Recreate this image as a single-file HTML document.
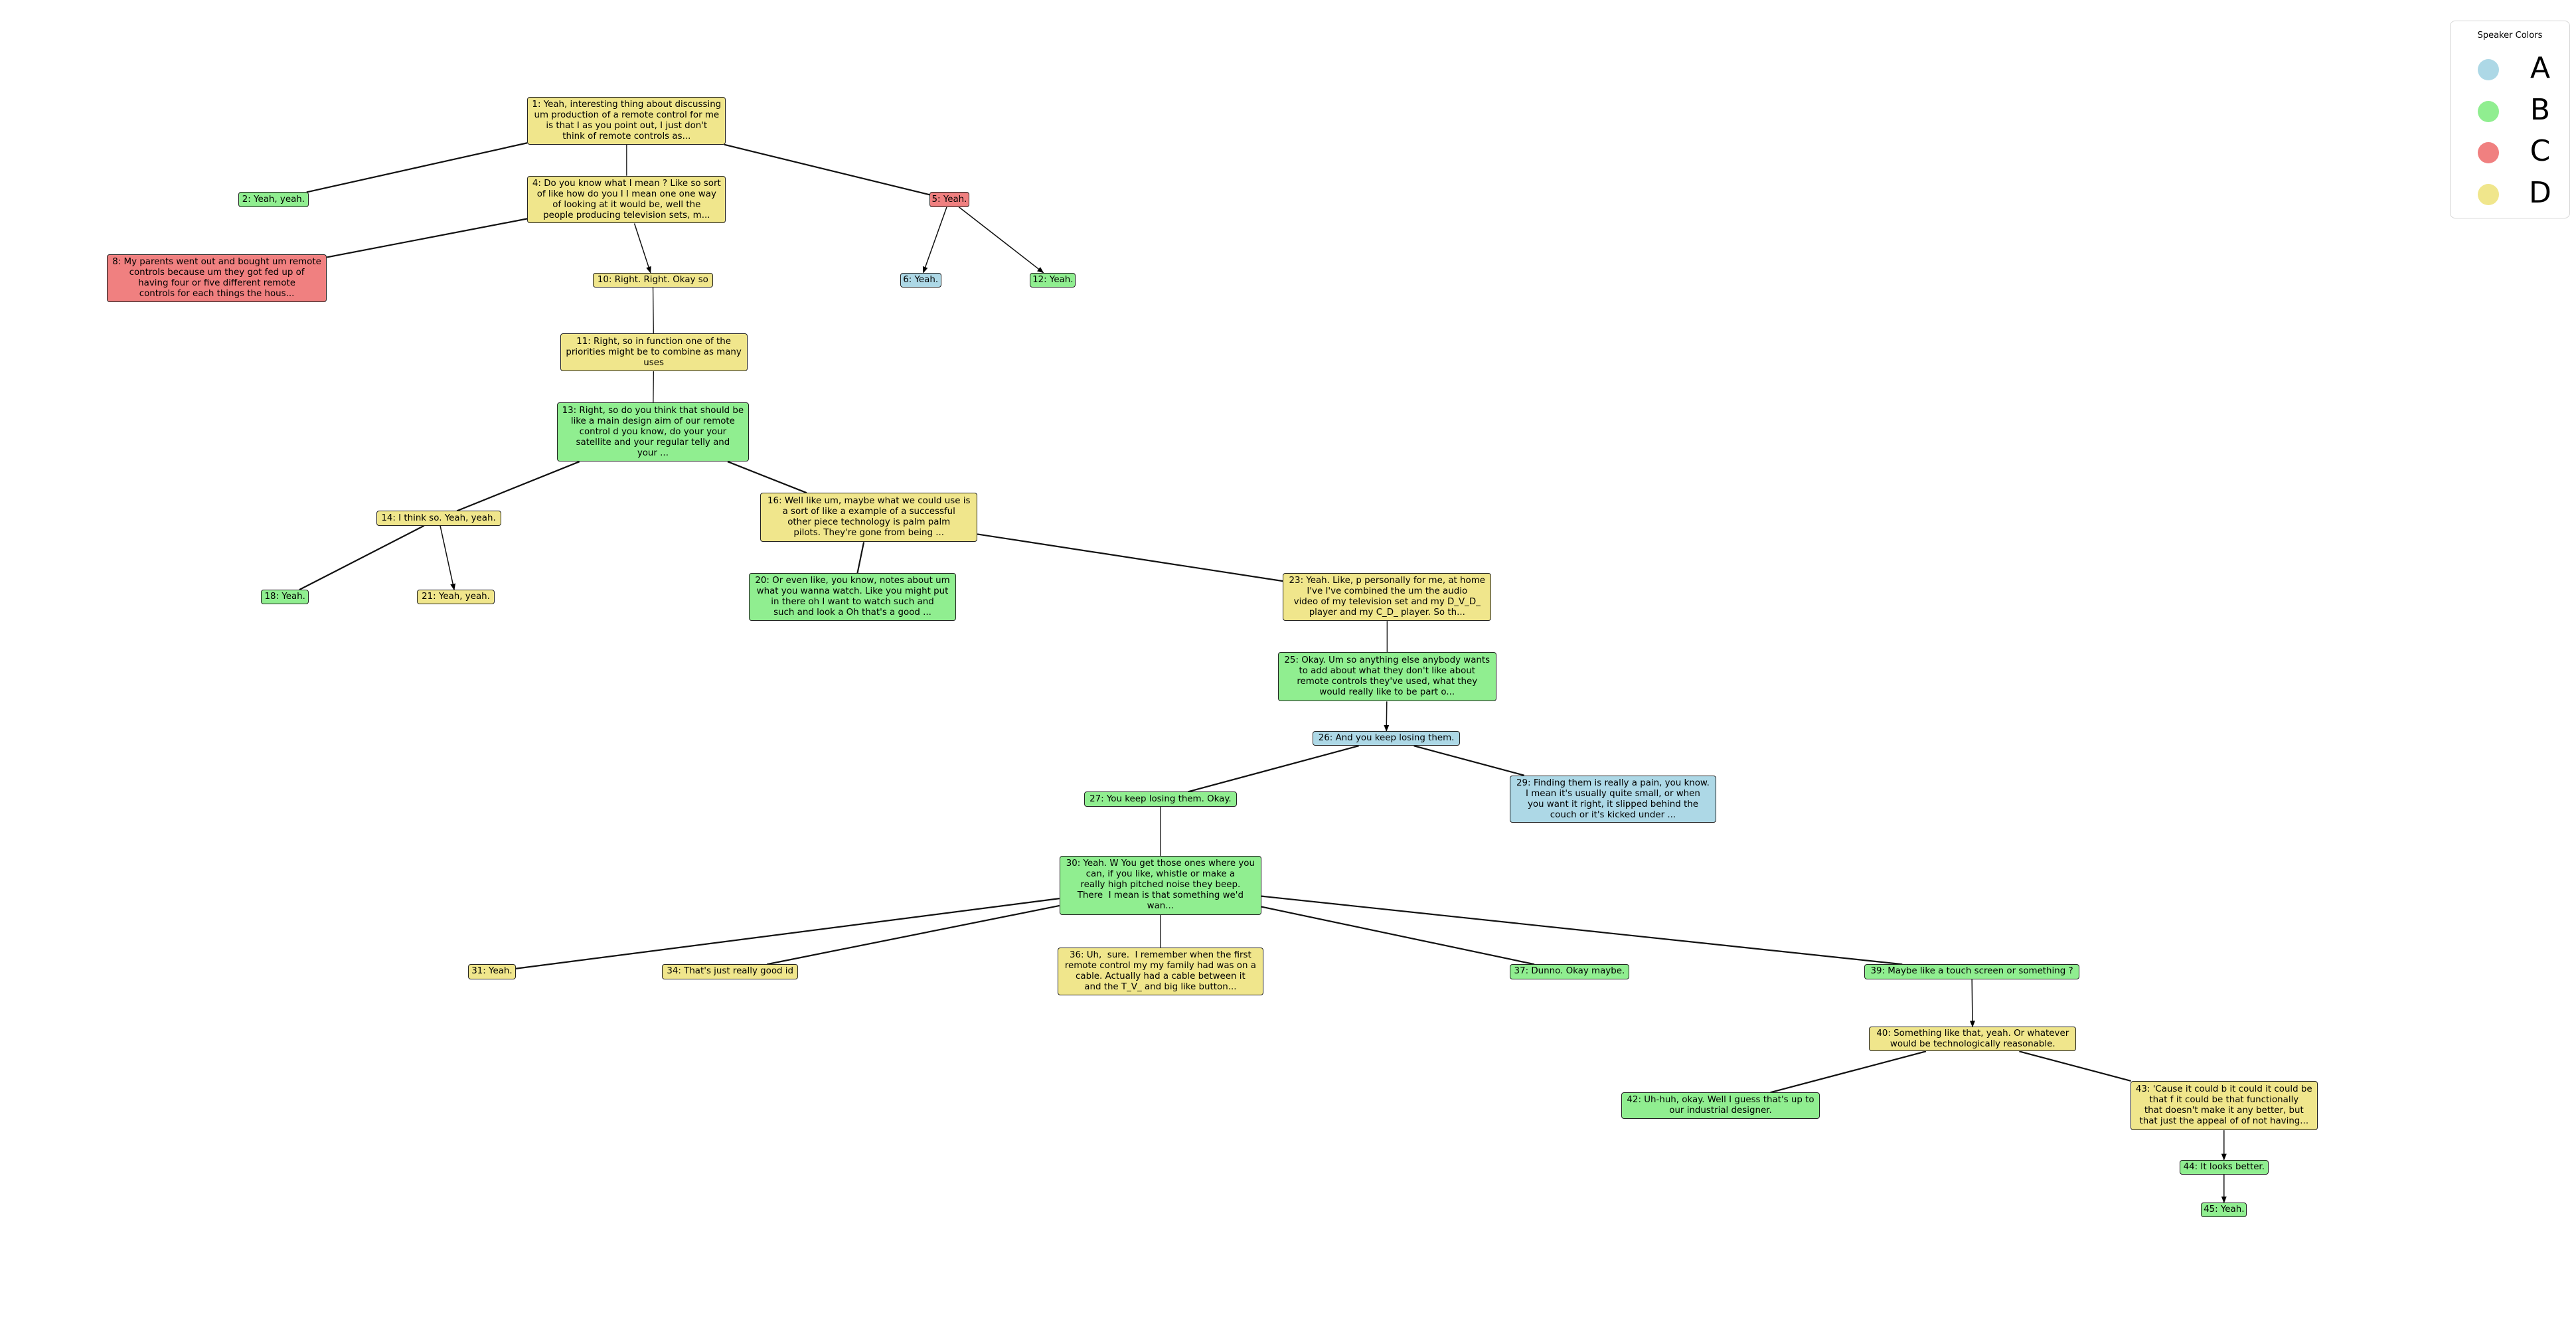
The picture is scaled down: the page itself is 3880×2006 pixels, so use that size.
<!DOCTYPE html>
<html><head><meta charset="utf-8"><style>
html,body{margin:0;padding:0;background:#fff;}
#c{position:relative;width:3880px;height:2006px;overflow:hidden;font-family:"DejaVu Sans","Liberation Sans",sans-serif;}
.n{position:absolute;box-sizing:border-box;border:1.5px solid #222;border-radius:4px;display:flex;align-items:center;justify-content:center;text-align:center;font-size:13.4px;line-height:16px;color:#000;white-space:pre;}
svg{position:absolute;left:0;top:0;}
#leg{position:absolute;left:3690px;top:31px;width:181px;height:298px;box-sizing:border-box;border:1.5px solid #d6d6d6;border-radius:8px;background:#fff;}
#leg .t{position:absolute;top:14px;width:100%;text-align:center;font-size:13px;}
#leg .d{position:absolute;left:41px;width:32px;height:32px;border-radius:50%;}
#leg .l{position:absolute;left:110px;width:50px;text-align:center;font-size:44px;line-height:50px;}
</style></head><body><div id="c">
<svg id="s" width="3880" height="2006"></svg>
<div id="leg"><div class="t">Speaker Colors</div>
<div class="d" style="top:57px;background:#add8e6"></div><div class="l" style="top:46px">A</div>
<div class="d" style="top:120px;background:#90ee90"></div><div class="l" style="top:109px">B</div>
<div class="d" style="top:182px;background:#f08080"></div><div class="l" style="top:171px">C</div>
<div class="d" style="top:245px;background:#f0e68c"></div><div class="l" style="top:234px">D</div>
</div>
</div>
<script>
var S=2.474;
var Y="#f0e68c",G="#90ee90",R="#f08080",B="#add8e6";
var N={
1:[321,442,59,88,Y,"1: Yeah, interesting thing about discussing\num production of a remote control for me\nis that I as you point out, I just don't\nthink of remote controls as..."],
2:[145,188,117,126,G,"2: Yeah, yeah."],
4:[321,442,107,136,Y,"4: Do you know what I mean ? Like so sort\nof like how do you I I mean one one way\nof looking at it would be, well the\npeople producing television sets, m..."],
5:[566,590,117,126,R,"5: Yeah."],
8:[65,199,155,184,R,"8: My parents went out and bought um remote\ncontrols because um they got fed up of\nhaving four or five different remote\ncontrols for each things the hous..."],
10:[361,434,166,175,Y,"10: Right. Right. Okay so"],
6:[548,573,166,175,B,"6: Yeah."],
12:[627,655,166,175,G,"12: Yeah."],
11:[341,455,203,226,Y,"11: Right, so in function one of the\npriorities might be to combine as many\nuses"],
13:[339,456,245,281,G,"13: Right, so do you think that should be\nlike a main design aim of our remote\ncontrol d you know, do your your\nsatellite and your regular telly and\nyour ..."],
14:[229,305,311,320,Y,"14: I think so. Yeah, yeah."],
16:[463,595,300,330,Y,"16: Well like um, maybe what we could use is\na sort of like a example of a successful\nother piece technology is palm palm\npilots. They're gone from being ..."],
18:[159,188,359,368,G,"18: Yeah."],
21:[254,301,359,368,Y,"21: Yeah, yeah."],
20:[456,582,349,378,G,"20: Or even like, you know, notes about um\nwhat you wanna watch. Like you might put\nin there oh I want to watch such and\nsuch and look a Oh that's a good ..."],
23:[781,908,349,378,Y,"23: Yeah. Like, p personally for me, at home\nI've I've combined the um the audio\nvideo of my television set and my D_V_D_\nplayer and my C_D_ player. So th..."],
25:[778,911,397,427,G,"25: Okay. Um so anything else anybody wants\nto add about what they don't like about\nremote controls they've used, what they\nwould really like to be part o..."],
26:[799,889,445,454,B,"26: And you keep losing them."],
27:[660,753,482,491,G,"27: You keep losing them. Okay."],
29:[919,1045,472,501,B,"29: Finding them is really a pain, you know.\nI mean it's usually quite small, or when\nyou want it right, it slipped behind the\ncouch or it's kicked under ..."],
30:[645,768,521,557,G,"30: Yeah. W You get those ones where you\ncan, if you like, whistle or make a\nreally high pitched noise they beep.\nThere  I mean is that something we'd\nwan..."],
31:[285,314,587,596,Y,"31: Yeah."],
34:[403,486,587,596,Y,"34: That's just really good id"],
36:[644,769,577,606,Y,"36: Uh,  sure.  I remember when the first\nremote control my my family had was on a\ncable. Actually had a cable between it\nand the T_V_ and big like button..."],
37:[919,992,587,596,G,"37: Dunno. Okay maybe."],
39:[1135,1266,587,596,G,"39: Maybe like a touch screen or something ?"],
40:[1138,1264,625,640,Y,"40: Something like that, yeah. Or whatever\nwould be technologically reasonable."],
42:[987,1108,665,681,G,"42: Uh-huh, okay. Well I guess that's up to\nour industrial designer."],
43:[1297,1411,658,688,Y,"43: 'Cause it could b it could it could be\nthat f it could be that functionally\nthat doesn't make it any better, but\nthat just the appeal of of not having..."],
44:[1327,1381,706,715,G,"44: It looks better."],
45:[1340,1368,732,741,G,"45: Yeah."]
};
var E=[[1,2],[1,4],[1,5],[4,8],[4,10,1],[5,6,1],[5,12,1],[10,11],[11,13],[13,14],[13,16],[14,18],[14,21,1],[16,20],[16,23],[23,25],[25,26,1],[26,27],[26,29],[27,30],[30,31],[30,34],[30,36],[30,37],[30,39],[39,40,1],[40,42],[40,43],[43,44,1],[44,45,1]];
var c=document.getElementById('c'),s=document.getElementById('s');
var R2={};
for(var k in N){var a=N[k];var x0=a[0]*S,x1=a[1]*S,y0=a[2]*S,y1=a[3]*S;
R2[k]=[x0,y0,x1,y1];
var d=document.createElement('div');d.className='n';
d.style.left=x0+'px';d.style.top=y0+'px';d.style.width=(x1-x0)+'px';d.style.height=(y1-y0)+'px';d.style.background=a[4];d.textContent=a[5];c.appendChild(d);}
function clip(r,cx,cy,dx,dy){var hw=(r[2]-r[0])/2,hh=(r[3]-r[1])/2;var t=Math.min(dx?hw/Math.abs(dx):1e9,dy?hh/Math.abs(dy):1e9);return [cx+dx*t,cy+dy*t];}
var h='<defs><marker id="ar" markerWidth="10" markerHeight="10" refX="9" refY="5" orient="auto" markerUnits="userSpaceOnUse"><path d="M0,1 L10,5 L0,9 z" fill="#000"/></marker></defs>';
E.forEach(function(e){var a=R2[e[0]],b=R2[e[1]];
var ax=(a[0]+a[2])/2,ay=(a[1]+a[3])/2,bx=(b[0]+b[2])/2,by=(b[1]+b[3])/2;
var dx=bx-ax,dy=by-ay;var p=clip(a,ax,ay,dx,dy),q=clip(b,bx,by,-dx,-dy);
var w=e[2]?1.5:(Math.abs(dx)<8?1.3:2.2);
h+='<line x1="'+p[0]+'" y1="'+p[1]+'" x2="'+q[0]+'" y2="'+q[1]+'" stroke="#111" stroke-width="'+w+'"'+(e[2]?' marker-end="url(#ar)"':'')+'/>';});
s.innerHTML=h;
</script>
</body></html>
